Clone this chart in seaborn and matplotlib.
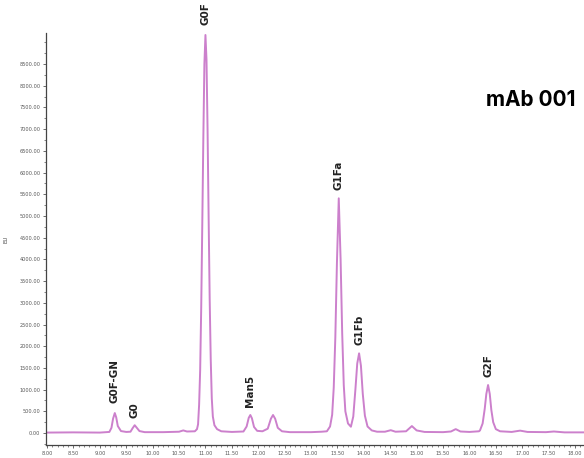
import numpy as np
import pandas as pd
import matplotlib
matplotlib.use("Agg")
import matplotlib.pyplot as plt
from matplotlib.ticker import MultipleLocator, FormatStrFormatter
import seaborn as sns

# Retention time (min) and signal (EU)
time_min = [7.98, 8.50, 9.00, 9.18, 9.22, 9.25, 9.283, 9.31, 9.34, 9.40, 9.50,
            9.58, 9.62, 9.66, 9.70, 9.75, 9.85, 10.20, 10.50, 10.58, 10.65, 10.80,
            10.84, 10.86, 10.88, 10.90, 10.92, 10.94, 10.96, 10.98, 11.00,
            11.02, 11.04, 11.06, 11.08, 11.10, 11.12, 11.14, 11.17, 11.22, 11.30,
            11.50, 11.72, 11.78, 11.82, 11.85, 11.88, 11.92, 11.98, 12.08, 12.18,
            12.24, 12.28, 12.32, 12.37, 12.45, 12.60, 13.00, 13.20, 13.30, 13.36,
            13.40, 13.43, 13.46, 13.49, 13.525, 13.56, 13.59, 13.62, 13.65, 13.70,
            13.755, 13.80, 13.84, 13.875, 13.91, 13.945, 13.98, 14.02, 14.07, 14.15,
            14.25, 14.40, 14.51, 14.60, 14.80, 14.91, 15.00, 15.15, 15.50, 15.65,
            15.74, 15.83, 16.00, 16.18, 16.20, 16.25, 16.29, 16.32, 16.353, 16.385,
            16.415, 16.45, 16.50, 16.58, 16.80, 16.96, 17.10, 17.45, 17.60, 17.80,
            18.17]
signal_eu = [10, 15, 10, 25, 120, 330, 460, 360, 160, 45, 25,
             30, 110, 180, 120, 45, 20, 20, 30, 60, 35, 40,
             90, 200, 650, 1450, 2900, 4800, 6800, 8500, 9170,
             8600, 7000, 5000, 3100, 1700, 800, 380, 180, 90, 40,
             25, 35, 150, 350, 415, 340, 140, 50, 40, 100,
             330, 415, 330, 120, 40, 20, 20, 30, 40, 150,
             420, 1050, 2200, 3900, 5407, 4000, 2300, 1100, 500, 220,
             145, 380, 1000, 1600, 1836, 1550, 900, 400, 150, 60,
             30, 30, 65, 30, 40, 160, 60, 25, 20, 35,
             90, 35, 25, 40, 60, 220, 560, 900, 1106, 900,
             530, 250, 90, 40, 25, 55, 25, 20, 35, 15,
             15]

# Labelled peaks
peak_names = ["G0F-GN", "G0", "G0F", "Man5", "G1Fa", "G1Fb", "G2F"]
peak_times = [9.283, 9.66, 11.00, 11.85, 13.525, 13.91, 16.353]
peak_heights = [460, 180, 9170, 415, 5407, 1836, 1106]

sample_title = "mAb 001"
y_label = "EU"

sns.set_style("ticks")
plt.rcParams["font.family"] = ["DejaVu Sans"]

df = pd.DataFrame({"time": time_min, "signal": signal_eu})

fig = plt.figure(figsize=(5.84, 4.58), dpi=100)
ax = fig.add_axes([46 / 584, 13 / 458, 1 - 46 / 584, (445 - 33) / 458])

sns.lineplot(data=df, x="time", y="signal", ax=ax, color="#cc80cc",
             linewidth=1.4, estimator=None, sort=True)

ax.set_xlim(7.98, 18.17)
ax.set_ylim(-276, 9216)
ax.xaxis.set_major_locator(MultipleLocator(0.5))
ax.xaxis.set_minor_locator(MultipleLocator(0.1))
ax.yaxis.set_major_locator(MultipleLocator(500))
ax.yaxis.set_minor_locator(MultipleLocator(250))
ax.xaxis.set_major_formatter(FormatStrFormatter("%.2f"))
ax.yaxis.set_major_formatter(FormatStrFormatter("%.2f"))
yt = [v for v in np.arange(0, 8501, 500)]
ax.set_yticks(yt)
ax.tick_params(axis="both", which="major", labelsize=3.6, length=2.5,
               width=0.6, pad=1.5, colors="#555555", labelcolor="#555555")
ax.tick_params(axis="both", which="minor", length=1.5, width=0.5,
               colors="#555555")
ax.set_xlabel("")
ax.set_ylabel(y_label, fontsize=4, color="#444444", labelpad=8)
for s in ["top", "right"]:
    ax.spines[s].set_visible(False)
for s in ["left", "bottom"]:
    ax.spines[s].set_linewidth(0.9)
    ax.spines[s].set_color("#444444")

offsets = [7.5, 5.5, 7.0, 5.5, 6.0, 6.0, 5.5]
for name, t, h, off in zip(peak_names, peak_times, peak_heights, offsets):
    ax.annotate(name, xy=(t, h), xytext=(0, off), textcoords="offset points",
                rotation=90, ha="center", va="bottom", fontsize=7.5,
                fontweight="bold", color="#222222", annotation_clip=False)

fig.text(576 / 584, 1 - 100 / 458, sample_title, ha="right", va="center",
         fontsize=15, fontweight="bold", color="black",
         family=["Inter", "DejaVu Sans"])

fig.savefig("out.png", dpi=100)
